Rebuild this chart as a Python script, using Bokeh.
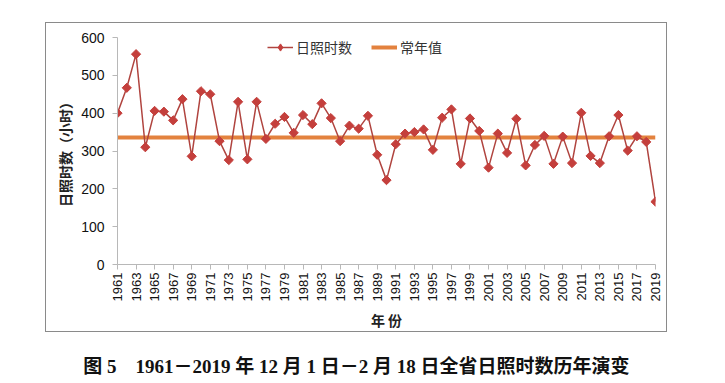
import math
from bokeh.plotting import figure
from bokeh.models import FixedTicker, Legend, LegendItem, Div, ColumnDataSource
from bokeh.layouts import column
from bokeh.embed import file_html
from bokeh.resources import INLINE

years = list(range(1961, 2020))
sunshine = [400, 467, 556, 310, 406, 404, 381, 437, 286, 458,
            450, 326, 276, 430, 278, 430, 332, 372, 390, 348,
            395, 371, 426, 387, 326, 367, 359, 393, 290, 223,
            318, 346, 350, 357, 303, 388, 410, 266, 386, 353,
            256, 346, 295, 385, 262, 316, 340, 266, 338, 268,
            401, 287, 268, 339, 395, 301, 339, 324, 166]
normal_value = 336
x_ticks = list(range(1961, 2020, 2))
y_ticks = [0, 100, 200, 300, 400, 500, 600]

series_name = "日照时数"
normal_name = "常年值"
x_title = "年 份"
y_title = "日照时数（小时）"
caption = "图 5　1961－2019 年 12 月 1 日－2 月 18 日全省日照时数历年演变"

src = ColumnDataSource(dict(year=years, val=sunshine))
nsrc = ColumnDataSource(dict(year=[years[0], years[-1]], val=[normal_value, normal_value]))

p = figure(width=622, height=310, output_backend="svg", toolbar_location=None,
           x_range=(1961, 2019), y_range=(0, 600),
           min_border_left=71, min_border_right=13, min_border_top=14, min_border_bottom=67,
           margin=(22, 0, 0, 45))
p.styles = {"border": "1px solid #8a8a8a"}
p.outline_line_color = None
p.grid.visible = False
p.background_fill_color = "white"
p.border_fill_color = "white"

axis_col = "#b8b8b8"
for ax in (p.xaxis[0], p.yaxis[0]):
    ax.axis_line_color = axis_col
    ax.major_tick_line_color = axis_col
    ax.minor_tick_line_color = None
    ax.major_tick_out = 5
    ax.major_tick_in = 0
    ax.major_label_text_font = "Liberation Sans"
    ax.major_label_text_color = "#111111"
    ax.axis_label_text_font = "Noto Sans CJK SC"
    ax.axis_label_text_font_style = "bold"
    ax.axis_label_text_color = "#222222"
    ax.axis_label_text_font_size = "14px"

p.xaxis.ticker = FixedTicker(ticks=x_ticks)
p.xaxis.major_label_orientation = math.pi / 2
p.xaxis.major_label_text_font_size = "13px"
p.xaxis.major_label_standoff = 3
p.xaxis.axis_label = x_title
p.xaxis.axis_label_standoff = 6

p.yaxis.ticker = FixedTicker(ticks=y_ticks)
p.yaxis.major_label_text_font_size = "14px"
p.yaxis.major_label_standoff = 8
p.yaxis.axis_label = y_title
p.yaxis.axis_label_standoff = 3

nl = p.line("year", "val", source=nsrc, line_color="#E3823E", line_width=4)
sl = p.line("year", "val", source=src, line_color="#B0443F", line_width=1.5)
sm = p.scatter("year", "val", source=src, marker="square", angle=math.pi / 4, size=6.5,
               fill_color="#C43F3C", line_color="#C43F3C")
# legend-only marker, placed outside the visible range
lm = p.scatter(x=[1900], y=[-1000], marker="diamond", size=11,
               fill_color="#C43F3C", line_color="#C43F3C")

legend = Legend(items=[LegendItem(label=series_name, renderers=[sl, lm]),
                       LegendItem(label=normal_name, renderers=[nl])],
                orientation="horizontal", location=(150, 207),
                border_line_color=None, background_fill_alpha=0,
                label_text_font="Noto Sans CJK SC", label_text_font_size="14px",
                label_text_color="#333333", glyph_width=26, glyph_height=18,
                label_standoff=3, spacing=19, padding=0, margin=0, label_height=18)
p.add_layout(legend, "center")

cap = Div(text=caption, width=709, height=26, margin=(21, 0, 0, 2),
          styles={"text-align": "center", "font-family": "'Liberation Serif', 'Noto Sans CJK SC'",
                  "font-size": "19px", "font-weight": "bold", "color": "#111111",
                  "width": "709px"})

layout = column(p, cap)
open("out.html", "w").write(file_html(layout, INLINE))
